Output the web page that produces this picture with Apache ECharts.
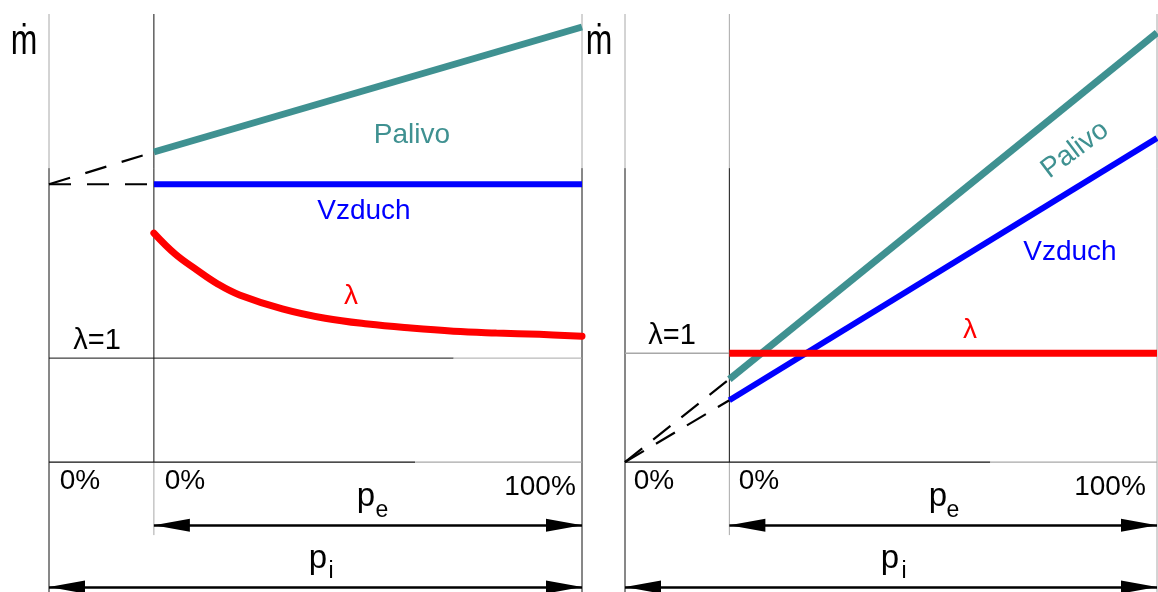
<!DOCTYPE html>
<html><head><meta charset="utf-8">
<script src="https://cdn.jsdelivr.net/npm/echarts@6/dist/echarts.min.js"></script>
<style>html,body{margin:0;padding:0;background:#fff}#c{width:1158px;height:592px}</style>
</head><body><div id="c"></div>
<script>
// ---------------- data (chart units: x = p_e in %, y = relative mass flow) ----------------
const xMinLeft = -24.5, xMinRight = -24.4, xMax = 100;
const yMin = -29, yMax = 100;
const seriesNames = ['Palivo', 'Vzduch', 'λ'];
const tickLabels = ['0%', '0%', '100%'];

// left panel
const leftPalivo     = [[0, 69.2], [100, 97.1]];
const leftPalivoExt  = [[-24.5, 62.0], [0, 69.2]];
const leftVzduch     = [[0, 62.0], [100, 62.0]];
const leftVzduchExt  = [[-24.5, 62.0], [0, 62.0]];
const leftLambda     = [[0, 51.1], [5, 46.4], [10, 42.9], [15, 39.7], [20, 37.3], [30, 34.2],
                        [40, 32.1], [50, 30.8], [60, 29.9], [70, 29.2], [80, 28.8], [90, 28.5], [100, 28.1]];
const leftLambdaOne  = 23.2;

// right panel
const rightPalivo    = [[0, 18.5], [100, 95.8]];
const rightPalivoExt = [[-24.4, 0], [0, 18.5]];
const rightVzduch    = [[0, 13.8], [100, 72.3]];
const rightVzduchExt = [[-24.4, 0], [0, 13.8]];
const rightLambda    = [[0, 24.3], [100, 24.3]];
const rightLambdaOne = 24.3;

// helper levels for frame / arrows
const frameSplitY = 65.6;   // where the thin verticals change shade
const innerBottomY = -16.3;
const peArrowY = -14.1;
const piArrowY = -27.9;

// ---------------- styling ----------------
const TEAL = '#3f9191', BLUE = '#0000ff', RED = '#ff0000', GRAY = '#a8a8a8', BLACK = '#111';
const FONT = '"Liberation Sans", Arial, sans-serif';
const ARROW = 'path://M5,0 L10,30 L0,30 Z';

function seg(g, data, color, width, opts) {
  opts = opts || {};
  return {
    type: 'line', xAxisIndex: g, yAxisIndex: g, data: data, symbol: 'none', silent: true,
    animation: false, z: opts.z || 2, clip: false,
    lineStyle: { color: color, width: width, type: opts.dash || 'solid', cap: opts.cap || 'butt' }
  };
}
function arrows(g, xmin) {
  return {
    type: 'line', xAxisIndex: g, yAxisIndex: g, data: [[0, peArrowY]], symbol: 'none',
    lineStyle: { width: 0 }, silent: true, animation: false, z: 3,
    markLine: {
      silent: true, animation: false,
      symbol: [ARROW, ARROW], symbolSize: [13, 36], symbolOffset: [[0, 18], [0, 18]],
      label: { show: false }, emphasis: { disabled: true },
      lineStyle: { color: '#000', width: 2.5, type: 'solid' },
      data: [
        [{ coord: [0, peArrowY] }, { coord: [xMax, peArrowY] }],
        [{ coord: [xmin, piArrowY] }, { coord: [xMax, piArrowY] }]
      ]
    }
  };
}
function frame(g, xmin, lamY) {
  const s = [];
  // outer verticals
  s.push(seg(g, [[xmin, yMax], [xmin, frameSplitY]], GRAY, 1));
  s.push(seg(g, [[xmin, frameSplitY], [xmin, yMin]], BLACK, 1));
  s.push(seg(g, [[xMax, yMax], [xMax, frameSplitY]], GRAY, 1));
  s.push(seg(g, [[xMax, frameSplitY], [xMax, yMin]], g === 0 ? BLACK : GRAY, 1));
  // inner vertical (p_e = 0)
  s.push(seg(g, [[0, yMax], [0, frameSplitY]], g === 0 ? BLACK : GRAY, 1));
  s.push(seg(g, [[0, frameSplitY], [0, 0]], BLACK, 1));
  s.push(seg(g, [[0, 0], [0, innerBottomY]], GRAY, 1));
  // lambda = 1 line
  if (g === 0) {
    s.push(seg(g, [[xmin, lamY], [70, lamY]], BLACK, 1));
    s.push(seg(g, [[70, lamY], [xMax, lamY]], GRAY, 1));
  } else {
    s.push(seg(g, [[xmin, lamY], [0, lamY]], GRAY, 1.5));
  }
  // zero axis
  s.push(seg(g, [[xmin, 0], [61, 0]], BLACK, 1.2));
  s.push(seg(g, [[61, 0], [xMax, 0]], GRAY, 1.2));
  return s;
}

const series = [].concat(
  frame(0, xMinLeft, leftLambdaOne),
  frame(1, xMinRight, rightLambdaOne),
  [
    seg(0, leftPalivoExt, '#000', 2.2, { dash: [22, 16], z: 4 }),
    seg(0, leftVzduchExt, '#000', 2.2, { dash: [22, 16], z: 4 }),
    seg(1, rightPalivoExt, '#000', 2.2, { dash: [22, 14], z: 4 }),
    seg(1, rightVzduchExt, '#000', 2.2, { dash: [22, 14], z: 4 }),
    Object.assign(seg(0, leftPalivo, TEAL, 7, { z: 5 }), { name: seriesNames[0] }),
    Object.assign(seg(0, leftVzduch, BLUE, 6, { z: 5 }), { name: seriesNames[1] }),
    Object.assign(seg(0, leftLambda, RED, 7, { z: 6, cap: 'round' }),
                  { name: seriesNames[2], smooth: 0.4 }),
    Object.assign(seg(1, rightPalivo, TEAL, 7, { z: 5 }), { name: seriesNames[0] }),
    Object.assign(seg(1, rightVzduch, BLUE, 6, { z: 5 }), { name: seriesNames[1] }),
    Object.assign(seg(1, rightLambda, RED, 7, { z: 6 }), { name: seriesNames[2] }),
    arrows(0, xMinLeft),
    arrows(1, xMinRight)
  ]
);

function txt(x, y, text, color, size, extra) {
  return Object.assign({
    type: 'text', x: x, y: y, silent: true, z: 10,
    style: { text: text, fill: color, font: size + 'px ' + FONT, align: 'center', verticalAlign: 'middle' }
  }, extra || {});
}

const graphics = [
  // left panel
  txt(24, 42, 'ṁ', '#000', 42, { scaleX: 0.76 }),
  txt(412, 135, seriesNames[0], TEAL, 28),
  txt(364, 211, seriesNames[1], BLUE, 28),
  txt(351, 296, seriesNames[2], RED, 28),
  txt(97, 341, 'λ=1', '#000', 29),
  txt(80, 481, tickLabels[0], '#000', 28),
  txt(185, 481, tickLabels[1], '#000', 28),
  txt(540, 487, tickLabels[2], '#000', 28),
  txt(366, 497, 'p', '#000', 33),
  txt(382, 511, 'e', '#000', 23),
  txt(318, 559, 'p', '#000', 33),
  txt(331, 572, 'i', '#000', 23),
  // right panel
  txt(599, 42, 'ṁ', '#000', 42, { scaleX: 0.76 }),
  txt(1075, 150, seriesNames[0], TEAL, 28, { rotation: 37 * Math.PI / 180 }),
  txt(1070, 252, seriesNames[1], BLUE, 28),
  txt(970, 330, seriesNames[2], RED, 28),
  txt(672, 336, 'λ=1', '#000', 29),
  txt(654, 481, tickLabels[0], '#000', 28),
  txt(759, 481, tickLabels[1], '#000', 28),
  txt(1110, 487, tickLabels[2], '#000', 28),
  txt(938, 497, 'p', '#000', 33),
  txt(953, 511, 'e', '#000', 23),
  txt(890, 559, 'p', '#000', 33),
  txt(904, 572, 'i', '#000', 23)
];

const chart = echarts.init(document.getElementById('c'), null, { renderer: 'canvas' });
chart.setOption({
  animation: false,
  backgroundColor: '#fff',
  grid: [
    { left: 49, top: 14, width: 533, height: 578 },
    { left: 625, top: 14, width: 532, height: 578 }
  ],
  xAxis: [
    { type: 'value', gridIndex: 0, min: xMinLeft, max: xMax, show: false },
    { type: 'value', gridIndex: 1, min: xMinRight, max: xMax, show: false }
  ],
  yAxis: [
    { type: 'value', gridIndex: 0, min: yMin, max: yMax, show: false },
    { type: 'value', gridIndex: 1, min: yMin, max: yMax, show: false }
  ],
  series: series,
  graphic: graphics
});
</script></body></html>
